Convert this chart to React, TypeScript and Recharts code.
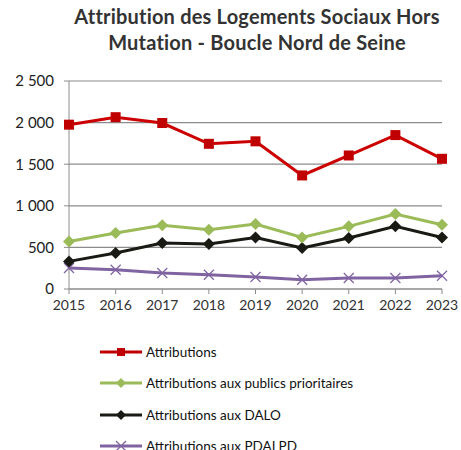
import { LineChart, Line, XAxis, YAxis, CartesianGrid } from "recharts";

const YEARS = ["2015", "2016", "2017", "2018", "2019", "2020", "2021", "2022", "2023"];
const ATTRIBUTIONS = [1975, 2065, 1995, 1745, 1775, 1365, 1605, 1850, 1565];
const PRIORITAIRES = [572, 673, 765, 713, 781, 620, 753, 900, 773];
const DALO = [332, 433, 553, 541, 620, 493, 613, 753, 620];
const PDALPD = [252, 232, 192, 172, 144, 112, 132, 132, 160];
const Y_TICKS = [0, 500, 1000, 1500, 2000, 2500];

const RED = "#c00000";
const GREEN = "#9bbb59";
const BLACK = "#1a1a14";
const PURPLE = "#8064a2";
const FONT = "Lato, 'Liberation Sans', sans-serif";

const data = YEARS.map((y, i) => ({
  year: y,
  attributions: ATTRIBUTIONS[i],
  prioritaires: PRIORITAIRES[i],
  dalo: DALO[i],
  pdalpd: PDALPD[i],
}));

// eslint-disable-next-line @typescript-eslint/no-explicit-any
const square = (size: number) => (p: any) => (
  <rect key={p.index} x={p.cx - size} y={p.cy - size} width={size * 2} height={size * 2} fill={RED} />
);
// eslint-disable-next-line @typescript-eslint/no-explicit-any
const diamond = (color: string, r: number) => (p: any) => (
  <polygon
    key={p.index}
    points={`${p.cx},${p.cy - r} ${p.cx + r},${p.cy} ${p.cx},${p.cy + r} ${p.cx - r},${p.cy}`}
    fill={color}
  />
);
// eslint-disable-next-line @typescript-eslint/no-explicit-any
const cross = (r: number) => (p: any) => (
  <g key={p.index} stroke={PURPLE} strokeWidth={1.3}>
    <line x1={p.cx - r} y1={p.cy - r} x2={p.cx + r} y2={p.cy + r} />
    <line x1={p.cx - r} y1={p.cy + r} x2={p.cx + r} y2={p.cy - r} />
  </g>
);

const LEGEND = [
  { label: "Attributions", color: RED, marker: "square" },
  { label: "Attributions aux publics prioritaires", color: GREEN, marker: "diamond" },
  { label: "Attributions aux DALO", color: BLACK, marker: "diamond" },
  { label: "Attributions aux PDALPD", color: PURPLE, marker: "cross" },
];

function LegendMarker({ marker, color }: { marker: string; color: string }) {
  return (
    <svg width={44} height={12} style={{ marginRight: 2, flex: "none" }}>
      <line x1={0} y1={6} x2={42} y2={6} stroke={color} strokeWidth={3} />
      {marker === "square" && <rect x={17} y={2} width={8} height={8} fill={color} />}
      {marker === "diamond" && <polygon points="21,1 26,6 21,11 16,6" fill={color} />}
      {marker === "cross" && (
        <g stroke={color} strokeWidth={1.3}>
          <line x1={16} y1={1} x2={26} y2={11} />
          <line x1={16} y1={11} x2={26} y2={1} />
        </g>
      )}
    </svg>
  );
}

export default function App() {
  return (
    <div style={{ position: "absolute", left: 0, top: 0, width: 461, height: 450, background: "#fff", overflow: "hidden", fontFamily: FONT }}>
      <div
        style={{
          position: "absolute",
          left: 0,
          width: 514,
          top: 3,
          textAlign: "center",
          fontWeight: 700,
          fontSize: 20,
          lineHeight: "26px",
          color: "#333",
          letterSpacing: 0.2,
        }}
      >
        Attribution des Logements Sociaux Hors
        <br />
        Mutation - Boucle Nord de Seine
      </div>
      <LineChart width={461} height={450} data={data} margin={{ top: 81, right: 19, left: 0, bottom: 131 }}>
        <CartesianGrid vertical={false} stroke="#8c8c8c" strokeWidth={1.2} />
        <XAxis
          dataKey="year"
          axisLine={{ stroke: "#8c8c8c" }}
          tickLine={{ stroke: "#8c8c8c" }}
          tickSize={5}
          tickMargin={6}
          height={30}
          interval={0}
          tick={{ fill: "#333", fontSize: 14, fontFamily: FONT }}
        />
        <YAxis
          domain={[0, 2500]}
          ticks={Y_TICKS}
          width={69}
          axisLine={{ stroke: "#8c8c8c" }}
          tickLine={{ stroke: "#8c8c8c" }}
          tickSize={5}
          tickMargin={10}
          tickFormatter={(v: number) => v.toLocaleString("fr-FR").replace(/\s/g, " ")}
          tick={{ fill: "#222", fontSize: 15, fontFamily: FONT }}
        />
        <Line dataKey="pdalpd" stroke={PURPLE} strokeWidth={3} dot={cross(5)} isAnimationActive={false} />
        <Line dataKey="dalo" stroke={BLACK} strokeWidth={3} dot={diamond(BLACK, 6)} isAnimationActive={false} />
        <Line dataKey="prioritaires" stroke={GREEN} strokeWidth={3} dot={diamond(GREEN, 6)} isAnimationActive={false} />
        <Line dataKey="attributions" stroke="#cc0000" strokeWidth={3} dot={square(5)} isAnimationActive={false} />
      </LineChart>
      <div style={{ position: "absolute", left: 100, top: 336 }}>
        {LEGEND.map((l) => (
          <div key={l.label} style={{ display: "flex", alignItems: "center", height: 31.5, fontSize: 13.5, color: "#111", whiteSpace: "nowrap" }}>
            <LegendMarker marker={l.marker} color={l.color} />
            <span>{l.label}</span>
          </div>
        ))}
      </div>
    </div>
  );
}
